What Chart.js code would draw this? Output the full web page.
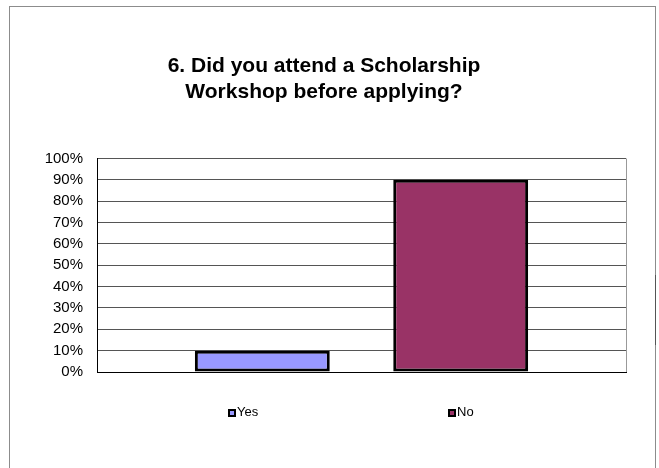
<!DOCTYPE html>
<html>
<head>
<meta charset="utf-8">
<script src="https://cdn.jsdelivr.net/npm/chart.js@4.4.1/dist/chart.umd.min.js"></script>
<style>
  html, body { margin: 0; padding: 0; background: #fff; overflow: hidden; }
  #wrap { position: relative; width: 659px; height: 468px; }
  #frame { position: absolute; left: 9px; top: 6px; width: 645px; height: 500px; border: 1px solid #8c8c8c; pointer-events: none; }
  #mark { position: absolute; left: 655px; top: 275px; width: 1px; height: 70px; background: #555; }
  #legend { position: absolute; left: 0; top: 0; font: 13px "Liberation Sans", Arial, sans-serif; color: #000; }
  .item { position: absolute; top: 404px; height: 16px; line-height: 16px; white-space: nowrap; }
  .box { display: inline-block; width: 4px; height: 4px; border: 2px solid #000; vertical-align: -1px; margin-right: 1px; }
</style>
</head>
<body>
<div id="wrap">
  <canvas id="myChart" width="659" height="468"></canvas>
  <div id="frame"></div>
  <div id="mark"></div>
  <div id="legend"></div>
</div>
<script>
// data
const categories = [''];
const seriesNames = ['Yes', 'No'];
const seriesValues = [[10], [90]];
const seriesColors = ['#9999FF', '#993366'];
const yTicks = [0, 10, 20, 30, 40, 50, 60, 70, 80, 90, 100];
const titleLines = ['6. Did you attend a Scholarship', 'Workshop before applying?'];

const font = '"Liberation Sans", Arial, sans-serif';

const datasets = seriesNames.map((name, i) => ({
    label: name,
    data: seriesValues[i],
    backgroundColor: seriesColors[i],
    borderColor: '#000',
    borderWidth: 3,
    borderSkipped: false,
    categoryPercentage: 0.75,
    barPercentage: 0.68
}));

const ctx = document.getElementById('myChart');

new Chart(ctx, {
    type: 'bar',
    data: { labels: categories, datasets: datasets },
    options: {
        responsive: false,
        animation: false,
        devicePixelRatio: 1,
        layout: { padding: { left: 22, right: 33, top: 0, bottom: 96 } },
        plugins: {
            legend: { display: false },
            tooltip: { enabled: false },
            title: {
                display: true,
                text: titleLines,
                color: '#000',
                font: { family: font, size: 21, weight: 'bold', lineHeight: 1.25 },
                padding: { top: 53, bottom: 53 }
            }
        },
        scales: {
            x: {
                ticks: { display: false },
                grid: { color: '#999', drawTicks: false, tickLength: 0 },
                border: { color: '#000', width: 1 }
            },
            y: {
                min: 0,
                max: 100,
                afterBuildTicks: (axis) => { axis.ticks = yTicks.map(v => ({ value: v })); },
                afterFit: (axis) => { axis.width = 75; },
                ticks: {
                    color: '#000',
                    padding: 14,
                    font: { family: font, size: 15 },
                    callback: (v) => v + '%'
                },
                grid: { color: '#555', drawTicks: false, tickLength: 0 },
                border: { color: '#000', width: 1 }
            }
        }
    }
});

// legend as real text, built from the series arrays
const legendLeft = [228, 448];
const legend = document.getElementById('legend');
seriesNames.forEach((name, i) => {
    const item = document.createElement('div');
    item.className = 'item';
    item.style.left = legendLeft[i] + 'px';
    const box = document.createElement('span');
    box.className = 'box';
    box.style.background = seriesColors[i];
    item.appendChild(box);
    item.appendChild(document.createTextNode(name));
    legend.appendChild(item);
});
</script>
</body>
</html>
